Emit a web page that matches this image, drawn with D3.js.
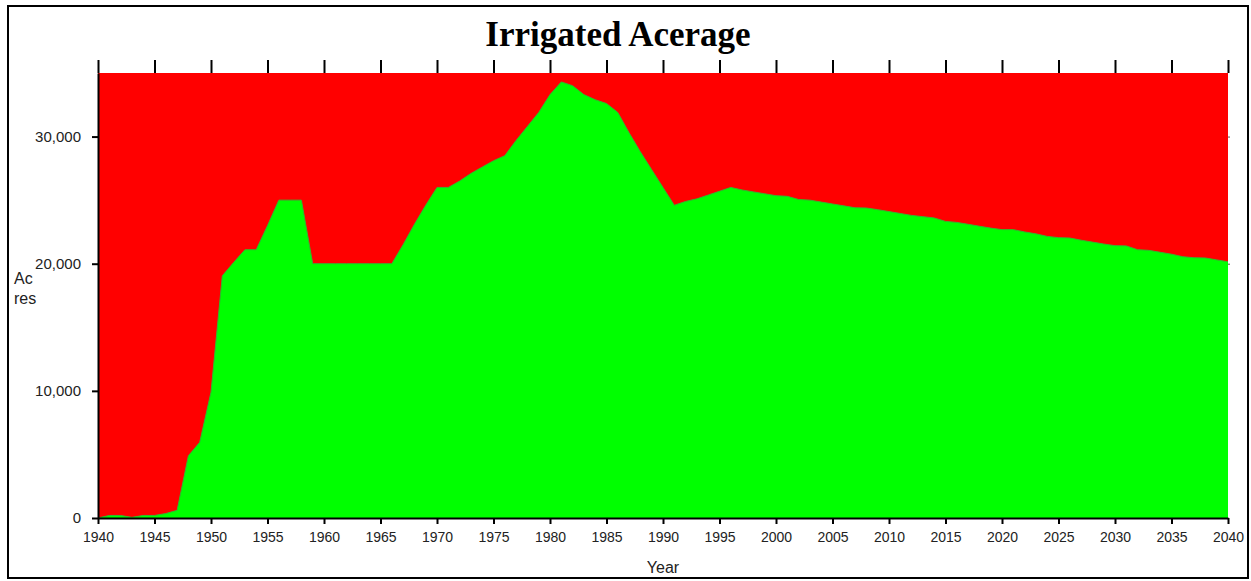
<!DOCTYPE html>
<html>
<head>
<meta charset="utf-8">
<script src="https://cdn.jsdelivr.net/npm/d3@7"></script>
<style>
  body { margin: 0; background: #fff; }
  svg { display: block; }
</style>
</head>
<body>
<script>
  // chart data
  const years = [1940,1941,1942,1943,1944,1945,1946,1947,1948,1949,
                 1950,1951,1952,1953,1954,1955,1956,1957,1958,1959,
                 1960,1961,1962,1963,1964,1965,1966,1967,1968,1969,
                 1970,1971,1972,1973,1974,1975,1976,1977,1978,1979,
                 1980,1981,1982,1983,1984,1985,1986,1987,1988,1989,
                 1990,1991,1992,1993,1994,1995,1996,1997,1998,1999,
                 2000,2001,2002,2003,2004,2005,2006,2007,2008,2009,
                 2010,2011,2012,2013,2014,2015,2016,2017,2018,2019,
                 2020,2021,2022,2023,2024,2025,2026,2027,2028,2029,
                 2030,2031,2032,2033,2034,2035,2036,2037,2038,2039,
                 2040];
  const acres = [0,200,200,50,200,200,350,600,4900,5950,
                 9900,19050,20100,21100,21100,23000,25000,25000,25000,20000,
                 20000,20000,20000,20000,20000,20000,20000,21500,23100,24600,
                 26000,26000,26500,27100,27600,28100,28500,29700,30800,31900,
                 33300,34300,34000,33300,32900,32600,31900,30300,28800,27400,
                 26000,24600,24900,25100,25400,25700,26000,25800,25650,25500,
                 25350,25300,25050,25000,24850,24700,24550,24400,24380,24250,
                 24100,23950,23800,23700,23600,23330,23250,23100,22950,22800,
                 22680,22680,22500,22350,22150,22050,22020,21850,21700,21550,
                 21420,21400,21100,21050,20900,20750,20550,20470,20450,20300,
                 20150];
  const capacity = 35000;
  const xTicks = [1940,1945,1950,1955,1960,1965,1970,1975,1980,1985,1990,
                  1995,2000,2005,2010,2015,2020,2025,2030,2035,2040];
  const yTicks = [0,10000,20000,30000];

  const W = 1251, H = 581;
  const margin = {top: 73, bottom: 63, left: 98, right: 23};

  const svg = d3.select('body').append('svg')
              .attr('width', W)
              .attr('height', H);

  // outer frame
  svg.append('rect')
    .attr('x', 8).attr('y', 6)
    .attr('width', 1240).attr('height', 572)
    .attr('fill', 'none')
    .attr('stroke', '#000')
    .attr('stroke-width', 2);

  const x = d3.scaleLinear().domain([1940, 2040]).range([margin.left, W - margin.right]);
  const y = d3.scaleLinear().domain([0, capacity]).range([H - margin.bottom, margin.top]);

  const data = years.map((yr, i) => ({year: yr, value: acres[i]}));

  // red background up to capacity
  svg.append('rect')
    .attr('x', x(1940))
    .attr('y', y(capacity))
    .attr('width', x(2040) - x(1940))
    .attr('height', y(0) - y(capacity))
    .attr('fill', '#ff0000');

  // green irrigated area
  const area = d3.area()
    .x(d => x(d.year))
    .y0(y(0))
    .y1(d => y(d.value));

  svg.append('path')
    .datum(data)
    .attr('d', area)
    .attr('fill', '#00ff00');

  svg.append('path')
    .datum(data)
    .attr('d', d3.line().x(d => x(d.year)).y(d => y(d.value)))
    .attr('fill', 'none')
    .attr('stroke', '#30b830')
    .attr('stroke-width', 1);

  // bottom axis
  const xAxis = svg.append('g')
    .attr('transform', `translate(0,${y(0)})`)
    .call(d3.axisBottom(x).tickValues(xTicks).tickFormat(d3.format('d')).tickSize(6).tickSizeOuter(0));
  xAxis.select('.domain').attr('stroke-width', 2);
  xAxis.selectAll('.tick line').attr('stroke-width', 2);
  xAxis.selectAll('.tick text')
    .attr('font-family', 'Liberation Sans, Arial, sans-serif')
    .attr('font-size', 14)
    .attr('fill', '#222')
    .attr('dy', '1.05em');

  // top ticks
  const topAxis = svg.append('g')
    .attr('transform', `translate(0,${y(capacity)})`)
    .call(d3.axisTop(x).tickValues(xTicks).tickFormat('').tickSize(13).tickSizeOuter(0));
  topAxis.select('.domain').remove();
  topAxis.selectAll('.tick line').attr('stroke-width', 2);

  // left axis
  const yAxis = svg.append('g')
    .attr('transform', `translate(${x(1940)},0)`)
    .call(d3.axisLeft(y).tickValues(yTicks).tickFormat(d3.format(',')).tickSize(6).tickSizeOuter(0));
  yAxis.select('.domain').attr('stroke-width', 2);
  yAxis.selectAll('.tick line').attr('stroke-width', 2);
  yAxis.selectAll('.tick text')
    .attr('font-family', 'Liberation Sans, Arial, sans-serif')
    .attr('font-size', 15)
    .attr('fill', '#222')
    .attr('x', -17);

  // right side small ticks
  svg.append('g')
    .attr('transform', `translate(${x(2040)},0)`)
    .call(d3.axisRight(y).tickValues([20000, 30000]).tickFormat('').tickSize(2).tickSizeOuter(0))
    .call(g => g.select('.domain').remove())
    .selectAll('.tick line').attr('stroke', '#555');

  // title
  svg.append('text')
    .attr('x', 618).attr('y', 46)
    .attr('text-anchor', 'middle')
    .attr('font-family', 'Liberation Serif, Times New Roman, serif')
    .attr('font-weight', 'bold')
    .attr('font-size', 35)
    .text('Irrigated Acerage');

  // axis titles
  svg.append('text')
    .attr('x', (x(1940) + x(2040)) / 2).attr('y', 573)
    .attr('text-anchor', 'middle')
    .attr('font-family', 'Liberation Sans, Arial, sans-serif')
    .attr('font-size', 16)
    .attr('fill', '#222')
    .text('Year');

  const yLabel = svg.append('text')
    .attr('font-family', 'Liberation Sans, Arial, sans-serif')
    .attr('font-size', 16)
    .attr('fill', '#222');
  yLabel.append('tspan').attr('x', 14).attr('y', 284).text('Ac');
  yLabel.append('tspan').attr('x', 14).attr('y', 304).text('res');
</script>
</body>
</html>
